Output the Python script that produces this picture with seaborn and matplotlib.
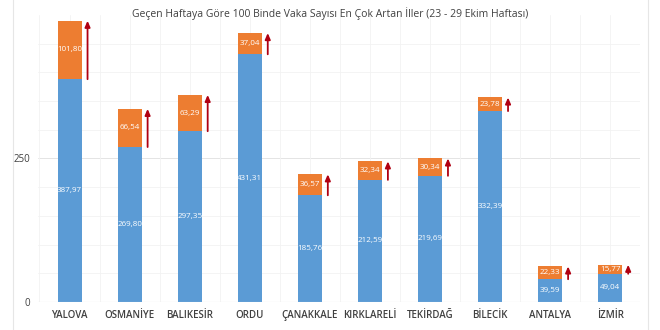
import matplotlib
matplotlib.use("Agg")
import matplotlib.pyplot as plt
import seaborn as sns
import pandas as pd
import numpy as np
from matplotlib.patches import Rectangle

cities = ["YALOVA", "OSMANİYE", "BALIKESİR", "ORDU", "ÇANAKKALE", "KIRKLARELİ",
          "TEKİRDAĞ", "BİLECİK", "ANTALYA", "İZMİR"]
previous = [387.97, 269.80, 297.35, 431.31, 185.76, 212.59, 219.69, 332.39, 39.59, 49.04]
increase = [101.80, 66.54, 63.29, 37.04, 36.57, 32.34, 30.34, 23.78, 22.33, 15.77]
title = "Geçen Haftaya Göre 100 Binde Vaka Sayısı En Çok Artan İller (23 - 29 Ekim Haftası)"

df = pd.DataFrame({"city": cities, "previous": previous, "increase": increase})
df["total"] = df["previous"] + df["increase"]

sns.set_theme(style="white")
plt.rcParams["font.family"] = ["Open Sans", "DejaVu Sans"]

fig = plt.figure(figsize=(6.6, 3.3), dpi=100)
ax = fig.add_axes([0.058, 0.085, 0.912, 0.87])

blue = "#5B9BD5"
orange = "#ED7D31"
arrow_c = "#B00012"

sns.barplot(data=df, x="city", y="total", color=orange, width=0.4, saturation=1,
            linewidth=0, edgecolor="none", ax=ax, zorder=2)
sns.barplot(data=df, x="city", y="previous", color=blue, width=0.4, saturation=1,
            linewidth=0, edgecolor="none", ax=ax, zorder=3)

ax.set_ylim(0, 500)
ax.set_xlim(-0.52, 9.5)
ax.set_yticks([0, 250])
ax.set_yticklabels(["0", "250"])
for v in range(50, 500, 50):
    if v != 250:
        ax.axhline(v, color="#f2f2f2", lw=0.6, zorder=0)
ax.axhline(250, color="#e4e4e4", lw=0.7, zorder=0)
ax.axhline(0, color="#d9d9d9", lw=0.8, zorder=4)
for xv in np.arange(-0.5, 10.0, 0.5):
    ax.axvline(xv, color="#f2f2f2", lw=0.6, zorder=0)

for i, (p, inc) in enumerate(zip(previous, increase)):
    ax.text(i, p / 2, f"{p:.2f}".replace(".", ","), ha="center", va="center",
            color="white", fontsize=5.8, zorder=5)
    ax.text(i, p + inc / 2, f"{inc:.2f}".replace(".", ","), ha="center", va="center",
            color="white", fontsize=5.8, zorder=5)
    ax.annotate("", xy=(i + 0.3, p + inc), xytext=(i + 0.3, p),
                arrowprops=dict(arrowstyle="-|>,head_width=0.13,head_length=0.3",
                                color=arrow_c, lw=1.3, shrinkA=0, shrinkB=0),
                zorder=6)

for s in ax.spines.values():
    s.set_visible(False)
ax.set_xlabel("")
ax.set_ylabel("")
ax.tick_params(axis="x", length=0, labelsize=7, labelcolor="#404040", pad=6)
ax.tick_params(axis="y", length=0, labelsize=7, labelcolor="#404040", pad=6)
for lab in ax.get_xticklabels():
    lab.set_fontweight("semibold")

fig.text(0.5, 0.958, title, ha="center", va="center", fontsize=7.5, color="#404040")

fig.patches.append(Rectangle((13 / 660, -0.01), (648 - 13) / 660, 1.02,
                             transform=fig.transFigure, fill=False,
                             edgecolor="#e6e6e6", lw=0.8, zorder=0))

fig.savefig("out.png", dpi=100)
